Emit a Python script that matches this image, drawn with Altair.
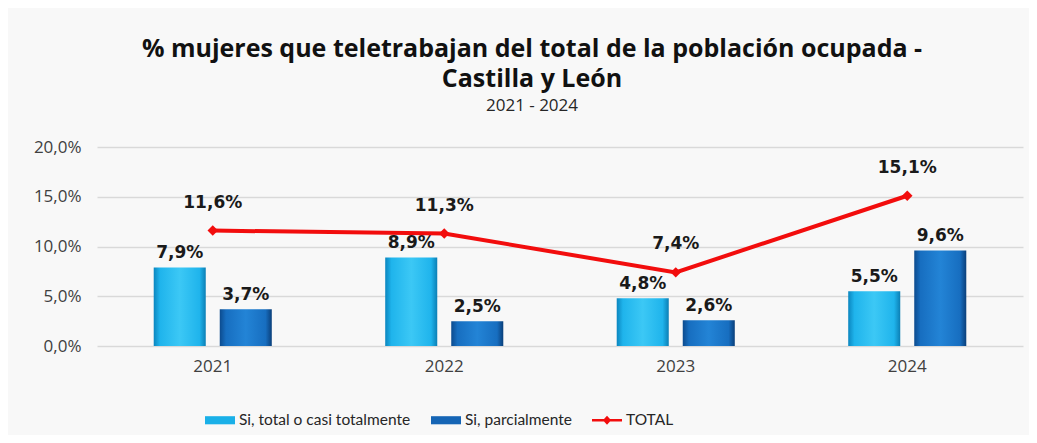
import altair as alt
import pandas as pd

years = ["2021", "2022", "2023", "2024"]
serie_total_casi = [7.9, 8.9, 4.8, 5.5]
serie_parcial = [3.7, 2.5, 2.6, 9.6]
serie_total = [11.6, 11.3, 7.4, 15.1]
series_names = ["Si, total o casi totalmente", "Si, parcialmente", "TOTAL"]
y_ticks = [0, 5, 10, 15, 20]

bars = pd.DataFrame({
    "year": years * 2,
    "serie": [series_names[0]] * 4 + [series_names[1]] * 4,
    "v": serie_total_casi + serie_parcial,
})
line = pd.DataFrame({"year": years, "serie": [series_names[2]] * 4, "v": serie_total})
leg = pd.DataFrame({"serie": series_names})

LIGHT = "#1ab0e8"
DARK = "#1565b5"
RED = "#f20d0d"

grad_light = {"gradient": "linear", "x1": 0, "x2": 1, "y1": 0, "y2": 0,
              "stops": [{"offset": 0, "color": "#0b86bf"}, {"offset": 0.12, "color": "#1fb4ec"},
                        {"offset": 0.5, "color": "#3cc8f5"}, {"offset": 0.88, "color": "#1fb4ec"},
                        {"offset": 1, "color": "#0b7fb5"}]}
grad_dark = {"gradient": "linear", "x1": 0, "x2": 1, "y1": 0, "y2": 0,
             "stops": [{"offset": 0, "color": "#0c4b8e"}, {"offset": 0.12, "color": "#176ec0"},
                       {"offset": 0.5, "color": "#2384d6"}, {"offset": 0.88, "color": "#176ec0"},
                       {"offset": 1, "color": "#0a3f7a"}]}

lab_expr = "replace(format(datum.v, '.1f'), '.', ',') + '%'"

x_enc = alt.X("year:N", scale=alt.Scale(domain=years, paddingInner=0.49, paddingOuter=0.245),
              axis=alt.Axis(title=None, labelAngle=0, ticks=False, domain=False, labelFontSize=17,
                            labelFont="Open Sans", labelColor="#404040", labelPadding=12))
xoff = alt.XOffset("serie:N", scale=alt.Scale(domain=series_names[:2], paddingInner=0.212, paddingOuter=0))
y_scale = alt.Scale(domain=[0, 20])
y_enc = alt.Y("v:Q", scale=y_scale,
              axis=alt.Axis(title=None, values=y_ticks, ticks=False, domain=False,
                            labelExpr="replace(format(datum.value, '.1f'), '.', ',') + '%'",
                            labelFontSize=17, labelFont="Open Sans", labelColor="#404040",
                            labelPadding=16, gridColor="#d9d9d9", gridWidth=1.5))

base_bars = alt.Chart(bars)
b1 = base_bars.transform_filter(alt.datum.serie == series_names[0]).mark_bar(color=grad_light).encode(
    x=x_enc, xOffset=xoff, y=y_enc)
b2 = base_bars.transform_filter(alt.datum.serie == series_names[1]).mark_bar(color=grad_dark).encode(
    x=x_enc, xOffset=xoff, y=y_enc)
bt = base_bars.transform_calculate(lab=lab_expr).mark_text(
    dy=-14, fontSize=17, fontWeight="bold", font="DejaVu Sans", color="#1a1a1a").encode(
    x=x_enc, xOffset=xoff, y=alt.Y("v:Q", scale=y_scale), text="lab:N")

base_line = alt.Chart(line)
ln = base_line.mark_line(color=RED, strokeWidth=4).encode(x=x_enc, y=alt.Y("v:Q", scale=y_scale))
pts = base_line.mark_point(shape="diamond", filled=True, size=110, color=RED, opacity=1).encode(
    x=x_enc, y=alt.Y("v:Q", scale=y_scale))
lt = base_line.transform_calculate(lab=lab_expr).mark_text(
    dy=-28, fontSize=17, fontWeight="bold", font="DejaVu Sans", color="#1a1a1a").encode(
    x=x_enc, y=alt.Y("v:Q", scale=y_scale), text="lab:N")

rect_path = "M-1,-0.27H1V0.27H-1Z"
total_path = "M-1,-0.09H-0.2L0,-0.3L0.2,-0.09H1V0.09H0.2L0,0.3L-0.2,0.09H-1Z"
leg_props = dict(title=None, orient="none", direction="horizontal", legendX=108, legendY=258,
                 symbolSize=900, symbolStrokeWidth=0, symbolOpacity=1, labelLimit=0,
                 labelFontSize=15.5, labelFont="Lato", labelColor="#262626",
                 labelOffset=4, columnPadding=20)
legend_layer = alt.Chart(leg).mark_point(filled=True, size=0, opacity=1).encode(
    x=alt.value(0), y=alt.value(0),
    color=alt.Color("serie:N", scale=alt.Scale(domain=series_names, range=[LIGHT, DARK, RED]),
                    legend=alt.Legend(**leg_props)),
    shape=alt.Shape("serie:N", scale=alt.Scale(domain=series_names, range=[rect_path, rect_path, total_path]),
                    legend=alt.Legend(**leg_props)),
)

chart = alt.layer(b1, b2, bt, ln, pts, lt, legend_layer).properties(
    width=926, height=199,
    autosize=alt.AutoSizeParams(type="none"),
    padding={"left": 89, "top": 139, "right": 6, "bottom": 89},
    title=alt.Title(
        text=["% mujeres que teletrabajan del total de la población ocupada -", "Castilla y León"],
        subtitle="2021 - 2024", font="Open Sans", fontSize=25, fontWeight="bold", color="#111111",
        lineHeight=30, subtitleFont="Open Sans", subtitleFontSize=17, subtitleColor="#262626",
        subtitlePadding=6, anchor="middle", dx=-28, offset=24),
).configure(background="#f8f8f8").configure_view(stroke=None)

chart.save("out.html", embed_options={"renderer": "svg", "actions": False})
